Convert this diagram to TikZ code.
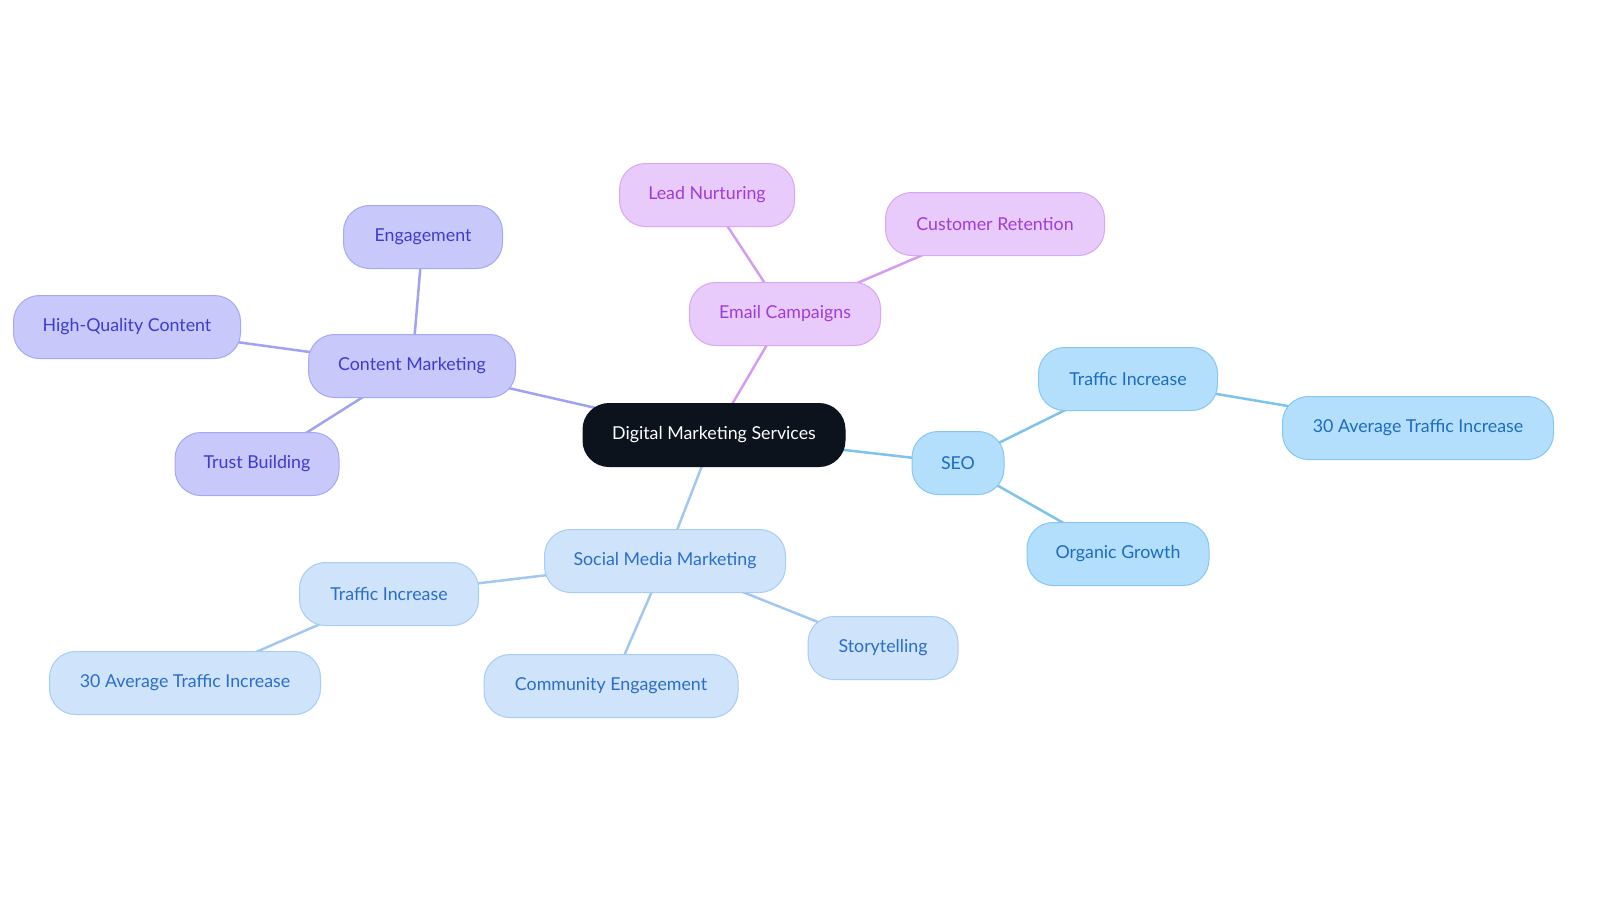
\documentclass[tikz,border=0pt]{standalone}
\usepackage{fontspec}
\setmainfont{Lato}
\pgfdeclarelayer{bg}
\pgfsetlayers{bg,main}
\definecolor{cfill}{HTML}{0D131D}
\definecolor{pfill}{HTML}{C8C9FA}
\definecolor{pdraw}{HTML}{A5A8F4}
\definecolor{ptext}{HTML}{3C3CD0}
\definecolor{pline}{HTML}{A0A2F2}
\definecolor{mfill}{HTML}{E8CAFB}
\definecolor{mdraw}{HTML}{D8A6F6}
\definecolor{mtext}{HTML}{A03CD8}
\definecolor{mline}{HTML}{D49CF2}
\definecolor{sfill}{HTML}{B4DFFC}
\definecolor{sdraw}{HTML}{86C6F2}
\definecolor{stext}{HTML}{1C6CC2}
\definecolor{sline}{HTML}{7EC2EE}
\definecolor{qfill}{HTML}{CFE3FA}
\definecolor{qdraw}{HTML}{A8CCF4}
\definecolor{qtext}{HTML}{2A6ECC}
\definecolor{qline}{HTML}{A2C8F2}
\tikzset{
  x=1pt,y=-1pt,
  box/.style={rounded corners=26pt, minimum height=63pt, inner sep=0pt, font=\fontsize{17.8}{21}\selectfont, line width=1pt},
  cbox/.style={box, fill=cfill, draw=cfill, text=white},
  pbox/.style={box, fill=pfill, draw=pdraw, text=ptext},
  mbox/.style={box, fill=mfill, draw=mdraw, text=mtext},
  sbox/.style={box, fill=sfill, draw=sdraw, text=stext},
  qbox/.style={box, fill=qfill, draw=qdraw, text=qtext},
  link/.style={line width=2.5pt},
}
\begin{document}
\begin{tikzpicture}
\useasboundingbox (0,0) rectangle (1600,903);
\node[cbox, minimum width=262pt] (c) at (714,435) {Digital Marketing Services};
\node[mbox, minimum width=191pt] (em) at (785,314) {Email Campaigns};
\node[mbox, minimum width=175pt] (ln) at (707,195) {Lead Nurturing};
\node[mbox, minimum width=219pt] (cr) at (995,224) {Customer Retention};
\node[pbox, minimum width=207pt] (cm) at (412,366) {Content Marketing};
\node[pbox, minimum width=159pt] (en) at (423,237) {Engagement};
\node[pbox, minimum width=227pt] (hq) at (127,327) {High-Quality Content};
\node[pbox, minimum width=164pt] (tb) at (257,464) {Trust Building};
\node[sbox, minimum width=92pt] (seo) at (958,463) {SEO};
\node[sbox, minimum width=179pt] (ti1) at (1128,379) {Traffic Increase};
\node[sbox, minimum width=271pt] (at1) at (1418,428) {30 Average Traffic Increase};
\node[sbox, minimum width=182pt] (og) at (1118,554) {Organic Growth};
\node[qbox, minimum width=241pt] (smm) at (665,561) {Social Media Marketing};
\node[qbox, minimum width=179pt] (ti2) at (389,594) {Traffic Increase};
\node[qbox, minimum width=271pt] (at2) at (185,683) {30 Average Traffic Increase};
\node[qbox, minimum width=254pt] (ce) at (611,686) {Community Engagement};
\node[qbox, minimum width=150pt] (st) at (883,648) {Storytelling};
\begin{pgfonlayer}{bg}
\draw[link, mline] (c.center) -- (em.center);
\draw[link, mline] (em.center) -- (ln.center);
\draw[link, mline] (em.center) -- (cr.center);
\draw[link, pline] (c.center) -- (cm.center);
\draw[link, pline] (cm.center) -- (en.center);
\draw[link, pline] (cm.center) -- (hq.center);
\draw[link, pline] (cm.center) -- (tb.center);
\draw[link, sline] (c.center) -- (seo.center);
\draw[link, sline] (seo.center) -- (ti1.center);
\draw[link, sline] (ti1.center) -- (at1.center);
\draw[link, sline] (seo.center) -- (og.center);
\draw[link, qline] (c.center) -- (smm.center);
\draw[link, qline] (smm.center) -- (ti2.center);
\draw[link, qline] (ti2.center) -- (at2.center);
\draw[link, qline] (smm.center) -- (ce.center);
\draw[link, qline] (smm.center) -- (st.center);
\end{pgfonlayer}
\end{tikzpicture}
\end{document}
